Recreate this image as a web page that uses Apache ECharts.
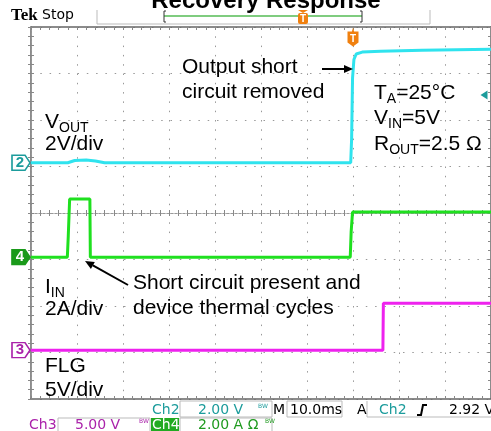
<!DOCTYPE html>
<html>
<head>
<meta charset="utf-8">
</head>
<body style="margin:0; background:#fff">
<div id="main" style="width:491px;height:431px"></div>
<script src="https://cdn.jsdelivr.net/npm/echarts@6/dist/echarts.min.js"></script>
<script>
// screen units: x in divisions (10.0 ms/div), y in divisions from screen centre
var voutX = [0, 0.8, 0.95, 1.2, 1.4, 1.6, 6.95, 6.97, 6.99, 7.02, 7.07, 7.2, 7.6, 8.5, 10];
var voutY = [1.08, 1.08, 1.13, 1.14, 1.12, 1.08, 1.08, 1.6, 2.9, 3.3, 3.42, 3.46, 3.48, 3.5, 3.52];
var iinX = [0, 0.79, 0.81, 0.84, 1.28, 1.29, 6.94, 6.96, 6.99, 10];
var iinY = [-0.95, -0.95, -0.5, 0.3, 0.3, -0.95, -0.95, -0.4, 0.02, 0.02];
var flgX = [0, 7.65, 7.66, 10];
var flgY = [-2.95, -2.95, -1.94, -1.94];
var groundRefs = [1.08, -0.95, -2.95];   // ch2, ch4, ch3 ground markers
var trigTime = 7.0;
var trigLevel = 2.54;

var FONT = '"Liberation Sans", Arial, sans-serif';
var STAT = '"DejaVu Sans", sans-serif';
var CYAN = '#2fe3ee', GREEN = '#1fe01f', MAGENTA = '#ee22ee';
var TEAL = '#1c9c9c', DKGREEN = '#1f9a1f', DKMAG = '#aa22aa', ORANGE = '#f0800f';

function zip(xs, ys) { return xs.map(function (x, i) { return [x, ys[i]]; }); }

var dom = document.getElementById('main');
var myChart = echarts.init(dom);

var pentagon = 'path://M0,0 L13,0 L18,7.5 L13,15 L0,15 Z';
var tab = 'path://M0,4 L4,4 L5,0 L6,4 L10,4 L10,15 L5,19 L0,15 Z';

function frameAxis(pos, split) {
    return {
        type: 'value', min: pos === 'top' || pos === 'bottom' ? 0 : -4,
        max: pos === 'top' || pos === 'bottom' ? 10 : 4, interval: 1, position: pos,
        axisLine: { onZero: false, lineStyle: { color: '#666', width: 1.5 } },
        axisTick: { inside: true, length: 3, lineStyle: { color: '#888' } },
        minorTick: { show: true, splitNumber: 5, length: 3, lineStyle: { color: '#888' } },
        axisLabel: { show: false },
        splitLine: { show: split, lineStyle: { color: '#999', type: [1.5, 7.8], width: 1 } }
    };
}
function centreAxis(horiz, pos) {
    return {
        type: 'value', min: horiz ? 0 : -4, max: horiz ? 10 : 4, interval: 1, position: pos,
        axisLine: { onZero: true, onZeroAxisIndex: 0, lineStyle: { color: '#999', type: [2, 2], width: 1 } },
        axisTick: { inside: true, length: 3, lineStyle: { color: '#888' } },
        minorTick: { show: true, splitNumber: 5, length: 3, lineStyle: { color: '#888' } },
        axisLabel: { show: false },
        splitLine: { show: false }
    };
}

function refMarker(y, label, fill, stroke, textColor) {
    return {
        coord: [0, y], symbol: pentagon, symbolSize: [18, 15], symbolOffset: [-10, 0],
        itemStyle: { color: fill, borderColor: stroke, borderWidth: 1.5 },
        label: { show: true, formatter: label, color: textColor, fontSize: 15, fontWeight: 'bold', fontFamily: FONT, offset: [-1, 0] }
    };
}

option = {
    animation: false,
    backgroundColor: '#fff',
    grid: { left: 31, top: 27, width: 465, height: 372 },
    xAxis: [frameAxis('bottom', true), frameAxis('top', false), centreAxis(true, 'bottom'), centreAxis(true, 'top')],
    yAxis: [frameAxis('left', true), frameAxis('right', false), centreAxis(false, 'left'), centreAxis(false, 'right')],
    series: [
        {
            name: 'VOUT', type: 'line', data: zip(voutX, voutY), symbol: 'none',
            lineStyle: { color: CYAN, width: 3 },
            markPoint: {
                silent: true,
                data: [
                    refMarker(groundRefs[0], '2', '#fff', TEAL, TEAL),
                    { coord: [10, trigLevel], symbol: 'triangle', symbolRotate: 90, symbolSize: [9, 7], symbolOffset: [-7, 0],
                      itemStyle: { color: TEAL }, label: { show: false } },
                    { coord: [trigTime, 4], symbol: tab, symbolSize: [11, 19], symbolOffset: [0, 10],
                      itemStyle: { color: ORANGE },
                      label: { show: true, formatter: 'T', color: '#fff', fontSize: 10, fontWeight: 'bold', fontFamily: FONT, offset: [0, 2] } }
                ]
            }
        },
        {
            name: 'IIN', type: 'line', data: zip(iinX, iinY), symbol: 'none',
            lineStyle: { color: GREEN, width: 3 },
            markPoint: { silent: true, data: [refMarker(groundRefs[1], '4', '#1a9a1a', '#1a9a1a', '#fff')] }
        },
        {
            name: 'FLG', type: 'line', data: zip(flgX, flgY), symbol: 'none',
            lineStyle: { color: MAGENTA, width: 3 },
            markPoint: { silent: true, data: [refMarker(groundRefs[2], '3', '#fff', DKMAG, DKMAG)] }
        }
    ],
    graphic: []
};

function txt(x, y, text, size, color, family, extra) {
    var s = { text: text, x: x, y: y, fill: color || '#000', fontSize: size || 21, fontFamily: family || FONT, textVerticalAlign: 'middle' };
    if (extra) for (var k in extra) s[k] = extra[k];
    return { type: 'text', z: 100, style: s };
}
function sub(x, y, big, small, rest) {
    return {
        type: 'text', z: 100,
        style: {
            x: x, y: y, textVerticalAlign: 'middle',
            text: '{b|' + big + '}{s|' + small + '}' + (rest ? '{b|' + rest + '}' : ''),
            rich: {
                b: { fontSize: 21, fontFamily: FONT, fill: '#000', lineHeight: 24, verticalAlign: 'bottom' },
                s: { fontSize: 14, fontFamily: FONT, fill: '#000', lineHeight: 24, verticalAlign: 'bottom', padding: [0, 0, -2, 0] }
            }
        }
    };
}
function arrow(x1, y1, x2, y2) {
    var a = Math.atan2(y2 - y1, x2 - x1), L = 9, W = 4;
    var bx = x2 - L * Math.cos(a), by = y2 - L * Math.sin(a);
    return [
        { type: 'line', z: 100, shape: { x1: x1, y1: y1, x2: bx, y2: by }, style: { stroke: '#000', lineWidth: 2 } },
        { type: 'polygon', z: 100, shape: { points: [[x2, y2], [bx - W * Math.sin(a), by + W * Math.cos(a)], [bx + W * Math.sin(a), by - W * Math.cos(a)]] }, style: { fill: '#000' } }
    ];
}
function box(x, y, w, h) {
    return { type: 'rect', z: 90, shape: { x: x, y: y, width: w, height: h }, style: { fill: 'none', stroke: '#bbb', lineWidth: 1 } };
}

var g = option.graphic;
// header
g.push(txt(266, 1, 'Recovery Response', 24, '#000', FONT, { textAlign: 'center', fontWeight: 'bold' }));
g.push(txt(11, 16, 'Tek', 17, '#000', '"Liberation Serif", serif', { fontWeight: 'bold' }));
g.push(txt(42, 15, 'Stop', 14, '#000', STAT));
g.push({ type: 'line', shape: { x1: 97, y1: 24, x2: 430, y2: 24 }, style: { stroke: '#bbb', lineWidth: 1 } });
g.push({ type: 'line', shape: { x1: 97, y1: 10, x2: 97, y2: 24 }, style: { stroke: '#bbb', lineWidth: 1 } });
g.push({ type: 'line', shape: { x1: 430, y1: 10, x2: 430, y2: 24 }, style: { stroke: '#bbb', lineWidth: 1 } });
g.push({ type: 'line', shape: { x1: 164, y1: 16, x2: 362, y2: 16 }, style: { stroke: '#55bb55', lineWidth: 1.5 } });
g.push({ type: 'polyline', shape: { points: [[166, 11], [164, 11], [164, 22], [166, 22]] }, style: { stroke: '#333', lineWidth: 1, fill: 'none' } });
g.push({ type: 'polyline', shape: { points: [[360, 11], [362, 11], [362, 22], [360, 22]] }, style: { stroke: '#333', lineWidth: 1, fill: 'none' } });
g.push({ type: 'polygon', z: 95, shape: { points: [[298, 10], [308, 10], [303, 13]] }, style: { fill: ORANGE } });
g.push({ type: 'rect', z: 95, shape: { x: 298, y: 13, width: 10, height: 11, r: 2 }, style: { fill: ORANGE } });
g.push(txt(303, 19, 'T', 10, '#fff', FONT, { textAlign: 'center', fontWeight: 'bold' }));

// annotations
g.push(txt(182, 67, 'Output short'));
g.push(txt(182, 92, 'circuit removed'));
g = g.concat(arrow(322, 69, 353, 69));
g.push(sub(374, 92, 'T', 'A', '=25°C'));
g.push(sub(374, 117, 'V', 'IN', '=5V'));
g.push(sub(374, 143, 'R', 'OUT', '=2.5 Ω'));
g.push(sub(45, 121, 'V', 'OUT'));
g.push(txt(45, 144, '2V/div'));
g.push(sub(45, 286, 'I', 'IN'));
g.push(txt(45, 309, '2A/div'));
g.push(txt(133, 283, 'Short circuit present and'));
g.push(txt(133, 308, 'device thermal cycles'));
g = g.concat(arrow(128, 285, 85, 261));
g.push(txt(45, 366, 'FLG'));
g.push(txt(45, 390, '5V/div'));

// status line
g.push({ type: 'rect', z: 80, shape: { x: 0, y: 401, width: 491, height: 30 }, style: { fill: '#fff' } });
g.push(txt(152, 410, 'Ch2', 14, TEAL, STAT));
g.push(box(180, 401, 92, 16));
g.push(txt(198, 410, '2.00 V', 14, TEAL, STAT));
g.push(txt(258, 406, 'BW', 6, TEAL, STAT));
g.push(txt(273, 410, 'M', 14, '#000', STAT));
g.push(box(287, 401, 55, 16));
g.push(txt(290, 410, '10.0ms', 14, '#000', STAT));
g.push(txt(357, 410, 'A', 14, '#000', STAT));
g.push({ type: 'polyline', z: 90, shape: { points: [[367, 401], [367, 417], [491, 417]] }, style: { stroke: '#bbb', lineWidth: 1, fill: 'none' } });
g.push(txt(379, 410, 'Ch2', 14, TEAL, STAT));
g.push({ type: 'polyline', z: 100, shape: { points: [[417, 415], [421, 415], [423, 405], [427, 405]] }, style: { stroke: '#000', lineWidth: 2, fill: 'none' } });
g.push(txt(449, 410, '2.92 V', 14, '#000', STAT));

g.push(txt(29, 425, 'Ch3', 14, DKMAG, STAT));
g.push(box(58, 418, 92, 16));
g.push(txt(75, 425, '5.00 V', 14, DKMAG, STAT));
g.push(txt(139, 421, 'BW', 6, DKMAG, STAT));
g.push({ type: 'rect', z: 95, shape: { x: 151, y: 418, width: 28, height: 14 }, style: { fill: '#22aa22' } });
g.push(txt(152, 425, 'Ch4', 14, '#fff', STAT));
g.push(box(180, 418, 92, 16));
g.push(txt(198, 425, '2.00 A Ω', 14, DKGREEN, STAT));
g.push(txt(265, 421, 'BW', 6, DKGREEN, STAT));
option.graphic = g;

if (option && typeof option === 'object') {
    myChart.setOption(option);
}
</script>
</body>
</html>
